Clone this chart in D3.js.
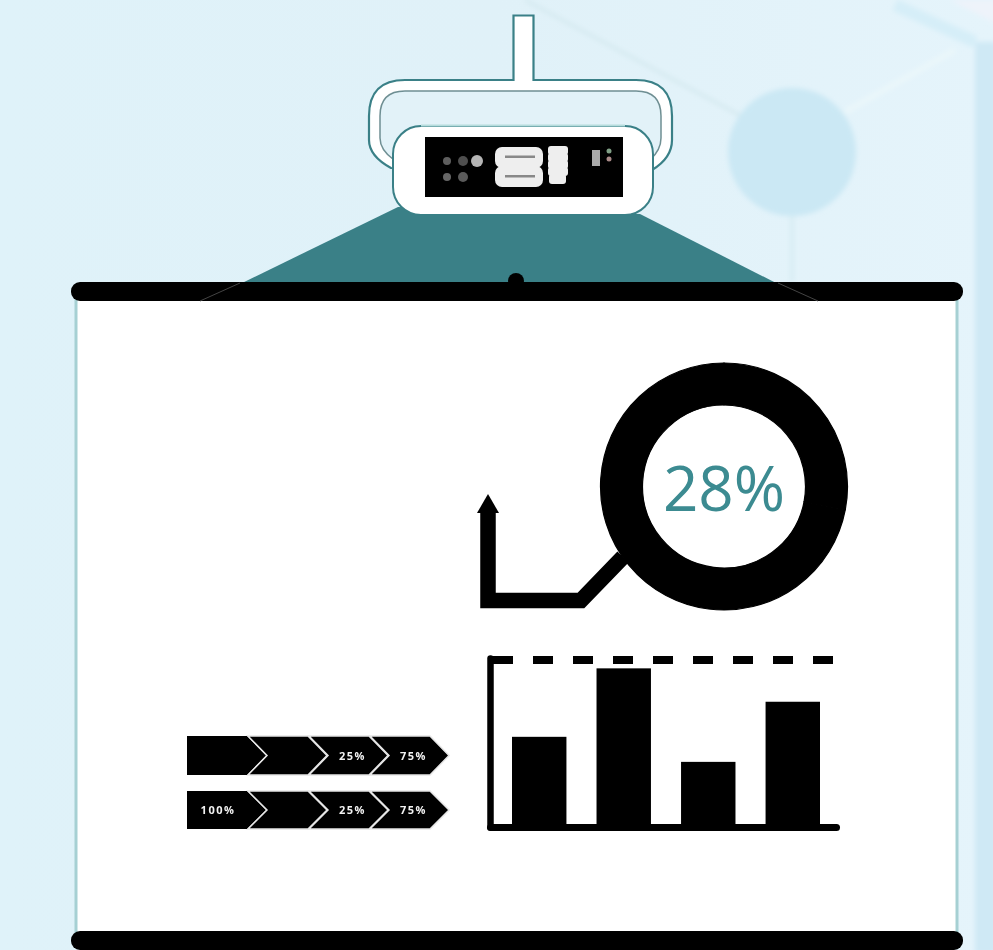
<!DOCTYPE html>
<html>
<head>
<meta charset="utf-8">
<script src="https://cdn.jsdelivr.net/npm/d3@7"></script>
<style>
  html, body { margin: 0; padding: 0; background: #e0f1f8; overflow: hidden; }
  svg { display: block; filter: blur(0.5px); }
</style>
</head>
<body>
<script>
// chart values
var barNames = ['A', 'B', 'C', 'D'];
var barValues = [54, 95, 39, 75];
var targetValue = 100;
var gaugeValues = [28, 72];
var gaugeLabel = '28%';
var chevronSteps = [0, 1, 2, 3];
var chevronRow1 = ['', '', '25%', '75%'];
var chevronRow2 = ['100%', '', '25%', '75%'];

var teal = '#3a8087';
var tealText = '#3c8b91';

var svg = d3.select('body').append('svg')
  .attr('width', 993)
  .attr('height', 950);

var defs = svg.append('defs');
var bg = defs.append('linearGradient').attr('id', 'bg');
bg.append('stop').attr('offset', '0').attr('stop-color', '#dff2f9');
bg.append('stop').attr('offset', '0.5').attr('stop-color', '#e0f1f8');
bg.append('stop').attr('offset', '1').attr('stop-color', '#e5f4fb');
defs.append('filter').attr('id', 'soft').append('feGaussianBlur').attr('stdDeviation', 2.5);

// background
svg.append('rect').attr('width', 993).attr('height', 950).attr('fill', 'url(#bg)');

var backdrop = svg.append('g').attr('filter', 'url(#soft)');
backdrop.append('rect').attr('x', 975).attr('y', 42).attr('width', 22).attr('height', 912).attr('fill', '#cfe9f5');
backdrop.append('path').attr('d', 'M950,0L997,24L997,0Z').attr('fill', '#eef3fa');
backdrop.append('path').attr('d', 'M525,0L745,118').attr('stroke', '#d3e8ee').attr('stroke-width', 3).attr('fill', 'none');
backdrop.append('path').attr('d', 'M845,112L955,50').attr('stroke', '#ebf7fa').attr('stroke-width', 5).attr('fill', 'none');
backdrop.append('path').attr('d', 'M895,5L975,42').attr('stroke', '#d6eef8').attr('stroke-width', 12).attr('fill', 'none');
backdrop.append('path').attr('d', 'M792,215L792,282').attr('stroke', '#d7ecf3').attr('stroke-width', 4).attr('fill', 'none');
backdrop.append('circle').attr('cx', 792).attr('cy', 152).attr('r', 64).attr('fill', '#cbe8f4');

// beam from the projector
svg.append('path').attr('d', 'M240,284L398,207L640,214L778,284Z').attr('fill', teal);

// projector
var projector = svg.append('g');
projector.append('path')
  .attr('d', 'M513.5,80L513.5,15.5L533.5,15.5L533.5,80L636,80Q672,80 672,116L672,140Q672,158 652,170L391,168Q369,156 369,140L369,116Q369,80 405,80Z')
  .attr('fill', '#fff').attr('stroke', teal).attr('stroke-width', 2.2);
projector.append('path')
  .attr('d', 'M394,160Q380,150 380,138L380,116Q380,91 405,91L636,91Q661,91 661,116L661,138Q661,150 650,160Z')
  .attr('fill', '#e2f2f8').attr('stroke', '#6f8f93').attr('stroke-width', 1.5);
projector.append('rect')
  .attr('x', 393).attr('y', 126).attr('width', 260).attr('height', 89).attr('rx', 28)
  .attr('fill', '#fff').attr('stroke', teal).attr('stroke-width', 2);
projector.append('path')
  .attr('d', 'M421,125.5L625,125.5').attr('stroke', '#b6dcdc').attr('stroke-width', 2);
projector.append('rect')
  .attr('x', 425).attr('y', 137).attr('width', 198).attr('height', 60).attr('fill', '#000');

var leds = projector.append('g');
leds.append('circle').attr('cx', 447).attr('cy', 161).attr('r', 4).attr('fill', '#5e5e5e');
leds.append('circle').attr('cx', 463).attr('cy', 161).attr('r', 5).attr('fill', '#4e4e4e');
leds.append('circle').attr('cx', 477).attr('cy', 161).attr('r', 6).attr('fill', '#b5b5b5');
leds.append('circle').attr('cx', 447).attr('cy', 177).attr('r', 4).attr('fill', '#666');
leds.append('circle').attr('cx', 463).attr('cy', 177).attr('r', 5).attr('fill', '#5a5a5a');
leds.append('circle').attr('cx', 609).attr('cy', 151).attr('r', 2.5).attr('fill', '#7f9f85');
leds.append('circle').attr('cx', 609).attr('cy', 159).attr('r', 2.5).attr('fill', '#a98a88');

projector.append('rect').attr('x', 495).attr('y', 147).attr('width', 48).attr('height', 21).attr('rx', 7).attr('fill', '#eee');
projector.append('rect').attr('x', 495).attr('y', 166).attr('width', 48).attr('height', 21).attr('rx', 7).attr('fill', '#eee');
projector.append('rect').attr('x', 499).attr('y', 160).attr('width', 40).attr('height', 14).attr('fill', '#eee');
projector.append('rect').attr('x', 505).attr('y', 155.5).attr('width', 30).attr('height', 2.5).attr('fill', '#888');
projector.append('rect').attr('x', 505).attr('y', 175).attr('width', 30).attr('height', 2.5).attr('fill', '#888');
projector.append('rect').attr('x', 548).attr('y', 146).attr('width', 20).attr('height', 9).attr('rx', 3).attr('fill', '#eee');
projector.append('rect').attr('x', 548).attr('y', 153).attr('width', 20).attr('height', 9).attr('rx', 3).attr('fill', '#eee');
projector.append('rect').attr('x', 548).attr('y', 160).attr('width', 20).attr('height', 9).attr('rx', 3).attr('fill', '#eee');
projector.append('rect').attr('x', 548).attr('y', 167).attr('width', 20).attr('height', 9).attr('rx', 3).attr('fill', '#eee');
projector.append('rect').attr('x', 549).attr('y', 174).attr('width', 17).attr('height', 10).attr('rx', 3).attr('fill', '#eee');
projector.append('rect').attr('x', 592).attr('y', 150).attr('width', 8).attr('height', 16).attr('fill', '#aaa');

// screen
svg.append('rect')
  .attr('x', 76).attr('y', 295).attr('width', 881).attr('height', 642)
  .attr('fill', '#fff').attr('stroke', '#a6d0d3').attr('stroke-width', 3);
svg.append('rect').attr('x', 71).attr('y', 282).attr('width', 892).attr('height', 19).attr('rx', 9).attr('fill', '#000');
svg.append('rect').attr('x', 71).attr('y', 931).attr('width', 892).attr('height', 19).attr('rx', 9).attr('fill', '#000');
svg.append('circle').attr('cx', 516).attr('cy', 281).attr('r', 8).attr('fill', '#000');
svg.append('path').attr('d', 'M200,301L240,283M778,283L818,301').attr('stroke', '#444').attr('stroke-width', 1).attr('fill', 'none');

// donut with the figure in the middle
var pie = d3.pie().sort(null);
var arc = d3.arc().innerRadius(81.5).outerRadius(123.5);
var gauge = svg.append('g').attr('transform', 'translate(724,486.5)');
gauge.selectAll('path')
  .data(pie(gaugeValues))
  .enter()
  .append('path')
  .attr('d', arc)
  .attr('fill', '#000')
  .attr('stroke', '#000')
  .attr('stroke-width', 1.2);
gauge.append('text')
  .attr('x', 0)
  .attr('y', 24)
  .attr('text-anchor', 'middle')
  .attr('font-family', '"Open Sans", sans-serif')
  .attr('font-size', 62)
  .attr('fill', tealText)
  .text(gaugeLabel);

// arrow leading out of the donut
var arrowLine = d3.line();
svg.append('path')
  .attr('d', arrowLine([[488, 510], [488, 600.5], [581, 600.5], [623, 557]]))
  .attr('fill', 'none')
  .attr('stroke', '#000')
  .attr('stroke-width', 15.5);
svg.append('path').attr('d', 'M488,494L499,513L477,513Z').attr('fill', '#000');

// bar chart
var xScale = d3.scaleBand()
  .domain(barNames)
  .range([512, 820])
  .paddingInner(0.356)
  .paddingOuter(0);
var yScale = d3.scaleLinear()
  .domain([0, targetValue])
  .range([827, 660]);

svg.selectAll('.bar')
  .data(barValues)
  .enter()
  .append('rect')
  .attr('class', 'bar')
  .attr('x', function (d, i) { return xScale(barNames[i]); })
  .attr('y', function (d) { return yScale(d); })
  .attr('width', xScale.bandwidth())
  .attr('height', function (d) { return yScale(0) - yScale(d); })
  .attr('fill', '#000');

var axisX = d3.scaleLinear().domain([0, 1]).range([490, 836]);
svg.append('g')
  .attr('transform', 'translate(0,' + yScale(0) + ')')
  .call(d3.axisBottom(axisX).tickValues([]).tickSizeOuter(0))
  .select('.domain')
  .attr('stroke', '#000')
  .attr('stroke-width', 7)
  .attr('stroke-linecap', 'round');
svg.append('g')
  .attr('transform', 'translate(490,0)')
  .call(d3.axisLeft(d3.scaleLinear().domain([0, 1]).range([yScale(0), 658])).tickValues([]).tickSizeOuter(0))
  .select('.domain')
  .attr('stroke', '#000')
  .attr('stroke-width', 6.5)
  .attr('stroke-linecap', 'round');

svg.append('line')
  .attr('x1', 493)
  .attr('x2', 835)
  .attr('y1', yScale(targetValue))
  .attr('y2', yScale(targetValue))
  .attr('stroke', '#000')
  .attr('stroke-width', 8)
  .attr('stroke-dasharray', '20 20');

// chevron rows
var chevronX = d3.scalePoint().domain(chevronSteps).range([187, 370]);
var rows = [
  { labels: chevronRow1, top: 736, bottom: 775 },
  { labels: chevronRow2, top: 791, bottom: 829 }
];

rows.forEach(function (row) {
  var mid = (row.top + row.bottom) / 2;
  var g = svg.append('g');
  g.selectAll('path')
    .data(row.labels)
    .enter()
    .append('path')
    .attr('d', function (d, i) {
      var x = chevronX(i);
      var notch = i === 0 ? 0 : 19;
      return 'M' + x + ',' + row.top +
        'L' + (x + 60) + ',' + row.top +
        'L' + (x + 79) + ',' + mid +
        'L' + (x + 60) + ',' + row.bottom +
        'L' + x + ',' + row.bottom +
        'L' + (x + notch) + ',' + mid + 'Z';
    })
    .attr('fill', '#000')
    .attr('stroke', function (d, i) { return i === 0 ? 'none' : '#e6e6e6'; })
    .attr('stroke-width', 1.5);
  g.selectAll('text')
    .data(row.labels)
    .enter()
    .append('text')
    .attr('x', function (d, i) { return chevronX(i) + (i === 0 ? 31 : 43.5); })
    .attr('y', mid + 4)
    .attr('text-anchor', 'middle')
    .attr('font-family', '"Open Sans", sans-serif')
    .attr('font-size', 11)
    .attr('font-weight', 700)
    .attr('letter-spacing', 1.5)
    .attr('fill', '#f2f2f2')
    .text(function (d) { return d; });
});
</script>
</body>
</html>
